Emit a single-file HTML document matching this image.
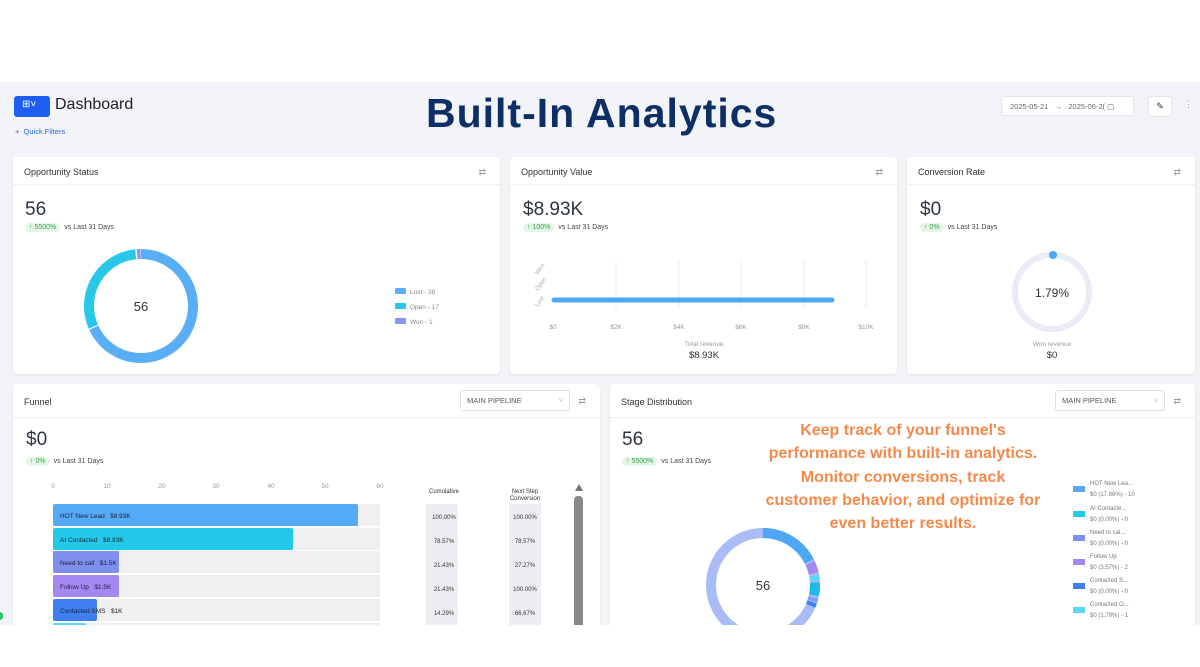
<!DOCTYPE html>
<html><head><meta charset="utf-8"><style>
*{box-sizing:border-box;margin:0;padding:0}
body{width:1200px;height:667px;overflow:hidden;background:#fff;font-family:"Liberation Sans",sans-serif;color:#1f2937;position:relative}
.bg{position:absolute;left:0;top:82px;width:1200px;height:543px;background:#f2f4f7}
.card{position:absolute;background:#fff;border-radius:4px;box-shadow:0 1px 2px rgba(0,0,0,.08);overflow:hidden}
.hd{height:28px;border-bottom:1px solid #eef0f3;font-size:9px;padding:10px 0 0 11px;color:#333;position:relative}
.sw{position:absolute;right:14px;top:10px;font-size:9px;color:#999}
.big{position:absolute;font-size:19px;color:#2d3442}
.badge{position:absolute;font-size:7px;color:#444}
.badge b{font-weight:normal;background:#e3f6e7;color:#39a651;border-radius:6px;padding:1px 4px;margin-right:4px}
.abs{position:absolute}
.sel{position:absolute;border:1px solid #dde1e6;border-radius:3px;font-size:7.5px;color:#555;padding:5px 6px;height:21px;width:110px;background:#fff}
</style></head><body>
<div class="bg"></div>
<div class="abs" style="left:14px;top:96px;width:36px;height:21px;background:#1f5ff0;border-radius:3px;color:#fff;font-size:10px;padding:3px 0 0 8px">⊞˅</div>
<div class="abs" style="left:55px;top:96px;font-size:16px;color:#222">Dashboard</div>
<div class="abs" style="left:15px;top:127px;font-size:7.5px;color:#2c6ae8">+&nbsp; Quick Filters</div>
<div class="abs" style="left:426px;top:90px;font-size:41px;font-weight:bold;color:#0d2f66;letter-spacing:1px;white-space:nowrap">Built-In Analytics</div>
<div class="abs" style="left:1001px;top:96px;width:133px;height:20px;background:#fff;border:1px solid #e2e5ea;border-radius:3px;font-size:7.5px;color:#666;padding:5px 8px;white-space:nowrap">2025-05-21 &nbsp;&nbsp;→&nbsp;&nbsp; 2025-06-2( ▢</div>
<div class="abs" style="left:1148px;top:96px;width:24px;height:21px;background:#fff;border:1px solid #e2e5ea;border-radius:3px;font-size:9px;text-align:center;padding-top:4px">✎</div>
<div class="abs" style="left:1184px;top:99px;font-size:9px;color:#999">⋮</div>

<div class="card" style="left:13px;top:157px;width:487px;height:217px">
<div class="hd">Opportunity Status<span class="sw">⇄</span></div>
<div class="big" style="left:12px;top:42px">56</div>
<div class="badge" style="left:12px;top:67px"><b>↑ 5500%</b>vs Last 31 Days</div>
<svg class="abs" style="left:0;top:0" width="487" height="217">
<g transform="translate(128,149) rotate(-90)" fill="none" stroke-width="10">
<circle r="52" stroke="#5aaef5" stroke-dasharray="222.4 400"/>
<circle r="52" stroke="#2ac8e8" stroke-dasharray="0 223.5 97.5 400"/>
<circle r="52" stroke="#8b93f0" stroke-dasharray="0 322.5 3.5 400"/>
</g>
<text x="128" y="154" font-size="13" text-anchor="middle" fill="#333" font-family="Liberation Sans">56</text>
<rect x="382" y="131" width="11" height="6" rx="1" fill="#5aaef5"/><text x="397" y="137" font-size="6.5" fill="#888">Lost - 38</text>
<rect x="382" y="146" width="11" height="6" rx="1" fill="#2ac8e8"/><text x="397" y="152" font-size="6.5" fill="#888">Open - 17</text>
<rect x="382" y="161" width="11" height="6" rx="1" fill="#8b93f0"/><text x="397" y="167" font-size="6.5" fill="#888">Won - 1</text>
</svg></div>

<div class="card" style="left:510px;top:157px;width:387px;height:217px">
<div class="hd">Opportunity Value<span class="sw">⇄</span></div>
<div class="big" style="left:13px;top:42px">$8.93K</div>
<div class="badge" style="left:13px;top:67px"><b>↑ 100%</b>vs Last 31 Days</div>
<svg class="abs" style="left:0;top:0" width="387" height="217">
<g stroke="#eee"><line x1="106" y1="103" x2="106" y2="152"/><line x1="169" y1="103" x2="169" y2="152"/><line x1="231" y1="103" x2="231" y2="152"/><line x1="294" y1="103" x2="294" y2="152"/><line x1="356" y1="103" x2="356" y2="152"/></g>
<line x1="44" y1="143" x2="322" y2="143" stroke="#4ea7f5" stroke-width="5" stroke-linecap="round"/>
<g font-size="6.5" fill="#999" text-anchor="middle"><text x="43" y="172">$0</text><text x="106" y="172">$2K</text><text x="169" y="172">$4K</text><text x="231" y="172">$6K</text><text x="294" y="172">$8K</text><text x="356" y="172">$10K</text>
<text x="194" y="189">Total revenue</text></g>
<g font-size="6" fill="#aaa"><text transform="translate(28,118) rotate(-55)">Won</text><text transform="translate(28,134) rotate(-55)">Open</text><text transform="translate(28,150) rotate(-55)">Lost</text></g>
<text x="194" y="201" font-size="9.5" fill="#333" text-anchor="middle">$8.93K</text>
</svg></div>

<div class="card" style="left:907px;top:157px;width:288px;height:217px">
<div class="hd">Conversion Rate<span class="sw">⇄</span></div>
<div class="big" style="left:13px;top:42px">$0</div>
<div class="badge" style="left:13px;top:67px"><b>↑ 0%</b>vs Last 31 Days</div>
<svg class="abs" style="left:0;top:0" width="288" height="217">
<circle cx="145" cy="135" r="37" fill="none" stroke="#e9ecf6" stroke-width="6"/>
<circle cx="146" cy="98" r="4" fill="#4ea7f5"/>
<text x="145" y="140" font-size="12" text-anchor="middle" fill="#333">1.79%</text>
<text x="145" y="189" font-size="6.5" text-anchor="middle" fill="#999">Won revenue</text>
<text x="145" y="201" font-size="9.5" text-anchor="middle" fill="#333">$0</text>
</svg></div>

<div class="card" style="left:13px;top:384px;width:587px;height:260px">
<div class="hd" style="height:34px;padding-top:13px">Funnel<span class="sw" style="top:12px">⇄</span></div>
<div class="sel" style="left:447px;top:6px">MAIN PIPELINE <span style="float:right;color:#bbb">˅</span></div>
<div class="big" style="left:13px;top:45px">$0</div>
<div class="badge" style="left:13px;top:74px"><b>↑ 0%</b>vs Last 31 Days</div>
<svg class="abs" style="left:0;top:0" width="587" height="260">
<g font-size="6.5" fill="#999" text-anchor="middle"><text x="40" y="104">0</text><text x="94" y="104">10</text><text x="149" y="104">20</text><text x="203" y="104">30</text><text x="258" y="104">40</text><text x="312" y="104">50</text><text x="367" y="104">60</text></g>
<g fill="#efefef"><rect x="40" y="120" width="327" height="22"/><rect x="40" y="144" width="327" height="22"/><rect x="40" y="167" width="327" height="22"/><rect x="40" y="191" width="327" height="22"/><rect x="40" y="215" width="327" height="22"/><rect x="40" y="239" width="327" height="22"/></g>
<rect x="40" y="120" width="305" height="22" rx="2" fill="#55aaf7"/>
<rect x="40" y="144" width="240" height="22" rx="2" fill="#22c9ea"/>
<rect x="40" y="167" width="66" height="22" rx="2" fill="#7f8ff0"/>
<rect x="40" y="191" width="66" height="22" rx="2" fill="#a587f2"/>
<rect x="40" y="215" width="44" height="22" rx="2" fill="#3f7ff0"/>
<rect x="40" y="239" width="33" height="22" rx="2" fill="#5ad7f5"/>
<g font-size="6.5" fill="#223"><text x="47" y="134">HOT New Lead &#160; $8.93K</text><text x="47" y="158">AI Contacted &#160; $8.93K</text><text x="47" y="181">Need to call &#160; $1.5K</text><text x="47" y="205">Follow Up &#160; $1.5K</text><text x="47" y="229">Contacted SMS &#160; $1K</text></g>
<rect x="413" y="120" width="32" height="140" fill="#eceef1"/><rect x="496" y="120" width="32" height="140" fill="#eceef1"/>
<g font-size="6" fill="#333" text-anchor="middle"><text x="431" y="109">Cumulative</text><text x="512" y="109">Next Step</text><text x="512" y="116">Conversion</text>
<text x="431" y="135">100.00%</text><text x="431" y="159">78.57%</text><text x="431" y="183">21.43%</text><text x="431" y="207">21.43%</text><text x="431" y="231">14.29%</text>
<text x="512" y="135">100.00%</text><text x="512" y="159">78.57%</text><text x="512" y="183">27.27%</text><text x="512" y="207">100.00%</text><text x="512" y="231">66.67%</text></g>
<path d="M562 107 L566 100 L570 107Z" fill="#777"/>
<rect x="561" y="112" width="9" height="150" rx="4" fill="#888"/>
</svg></div>

<div class="card" style="left:610px;top:384px;width:585px;height:260px">
<div class="hd" style="height:34px;padding-top:13px">Stage Distribution<span class="sw" style="top:12px">⇄</span></div>
<div class="sel" style="left:445px;top:6px">MAIN PIPELINE <span style="float:right;color:#bbb">˅</span></div>
<div class="big" style="left:12px;top:45px">56</div>
<div class="badge" style="left:12px;top:74px"><b>↑ 5500%</b>vs Last 31 Days</div>
<svg class="abs" style="left:0;top:0" width="585" height="260">
<g transform="translate(153,201) rotate(-90)" fill="none" stroke-width="10">
<circle r="52" stroke="#a9bcf7"/>
<circle r="52" stroke="#4ea7f5" stroke-dasharray="57 400"/>
<circle r="52" stroke="#a587f2" stroke-dasharray="0 59 11 400"/>
<circle r="52" stroke="#5ad7f5" stroke-dasharray="0 72 5 400"/>
<circle r="52" stroke="#22b9ea" stroke-dasharray="0 79 13 400"/>
<circle r="52" stroke="#7f9ff0" stroke-dasharray="0 94 4 400"/>
<circle r="52" stroke="#3f7ff0" stroke-dasharray="0 99 4 400"/>
</g>
<text x="153" y="206" font-size="13" text-anchor="middle" fill="#333">56</text>
<g font-size="6" fill="#777">
<rect x="463" y="102" width="12" height="6" fill="#55aaf7"/><text x="480" y="101">HOT New Lea...</text><text x="480" y="112">$0 (17.86%) - 10</text>
<rect x="463" y="127" width="12" height="6" fill="#22c9ea"/><text x="480" y="126">AI Contacte...</text><text x="480" y="137">$0 (0.00%) - 0</text>
<rect x="463" y="151" width="12" height="6" fill="#7f8ff0"/><text x="480" y="150">Need to cal...</text><text x="480" y="161">$0 (0.00%) - 0</text>
<rect x="463" y="175" width="12" height="6" fill="#a587f2"/><text x="480" y="174">Follow Up</text><text x="480" y="185">$0 (3.57%) - 2</text>
<rect x="463" y="199" width="12" height="6" fill="#3f7ff0"/><text x="480" y="198">Contacted S...</text><text x="480" y="209">$0 (0.00%) - 0</text>
<rect x="463" y="223" width="12" height="6" fill="#5ad7f5"/><text x="480" y="222">Contacted O...</text><text x="480" y="233">$0 (1.79%) - 1</text>
</g></svg></div>

<div class="abs" style="left:703px;top:419px;width:400px;text-align:center;font-size:16px;font-weight:bold;color:#f5894a;line-height:23.3px;white-space:nowrap">Keep track of your funnel's<br>performance with built-in analytics.<br>Monitor conversions, track<br>customer behavior, and optimize for<br>even better results.</div>
<div class="abs" style="left:0;top:625px;width:1200px;height:42px;background:#fff"></div>
<div class="abs" style="left:-3px;top:612px;width:6px;height:8px;border-radius:3px;background:#2dc46a"></div>
</body></html>
